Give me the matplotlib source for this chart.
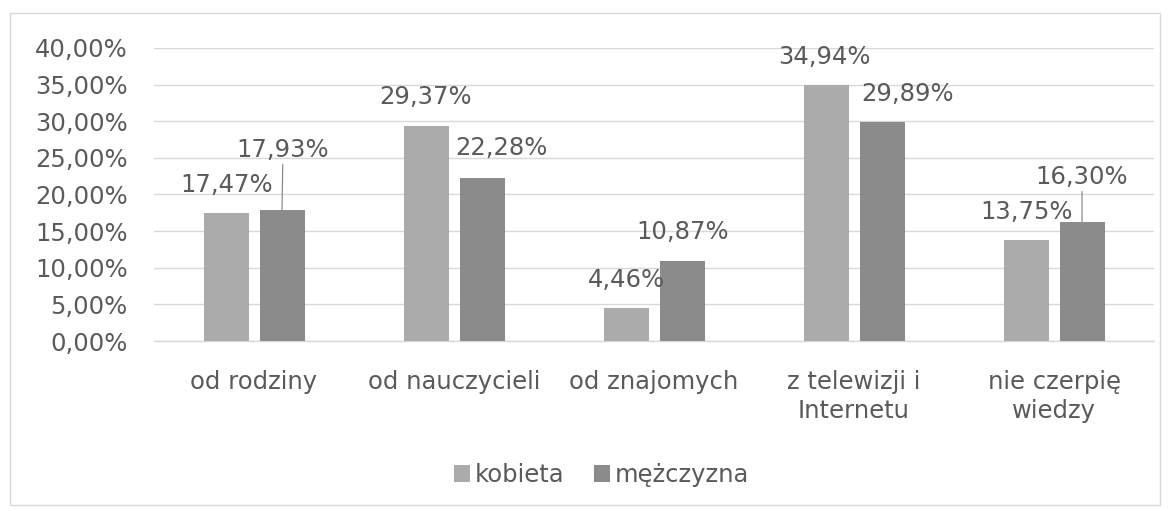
import matplotlib.pyplot as plt
import numpy as np
from matplotlib.patches import Rectangle
from matplotlib.ticker import FuncFormatter

# data
categories = ["od rodziny", "od nauczycieli", "od znajomych",
              "z telewizji i\nInternetu", "nie czerpię\nwiedzy"]
kobieta = [17.47, 29.37, 4.46, 34.94, 13.75]
mezczyzna = [17.93, 22.28, 10.87, 29.89, 16.30]
series_names = ["kobieta", "mężczyzna"]

# label placement in pixels relative to bar top (Excel moved some of them)
k_offsets = [(1, 28), (0, 29), (0, 28), (-2, 28), (1, 28)]
m_offsets = [(1, 60), (19, 30), (1, 29), (26, 28), (0, 45)]
m_leader = [True, False, False, False, True]

text_col = "#5a5a5a"
col_k = "#ababab"
col_m = "#8b8b8b"
fs = 17.5

plt.rcParams['font.family'] = ['DejaVu Sans']

fig = plt.figure(figsize=(11.68, 5.11), dpi=100)
ax = fig.add_axes([154 / 1168, 1 - 341 / 511, 1000 / 1168, 293 / 511])

x = np.arange(len(categories))
w = 0.225
off = 0.14
bars_k = ax.bar(x - off, kobieta, w, color=col_k, label=series_names[0], zorder=3)
bars_m = ax.bar(x + off, mezczyzna, w, color=col_m, label=series_names[1], zorder=3)

ax.set_xlim(-0.5, len(categories) - 0.5)
ax.set_ylim(0, 40)
ax.set_yticks(np.arange(0, 40.1, 5))
ax.yaxis.set_major_formatter(FuncFormatter(lambda v, p: f"{v:.2f}%".replace(".", ",")))
ax.set_xticks(x)
ax.set_xticklabels(categories, linespacing=1.25)
ax.tick_params(axis='both', length=0, labelsize=fs, labelcolor=text_col)
ax.tick_params(axis='y', pad=19)
ax.tick_params(axis='x', pad=21)
ax.grid(axis='y', color='#d9d9d9', lw=1, zorder=0)
ax.axhline(0, color='#d9d9d9', lw=1, zorder=2, clip_on=False)
for s in ax.spines.values():
    s.set_visible(False)


def fmt(v):
    return f"{v:.2f}%".replace(".", ",")


for b, v, (dx, dy) in zip(bars_k, kobieta, k_offsets):
    ax.annotate(fmt(v), (b.get_x() + b.get_width() / 2, v), xytext=(dx, dy),
                textcoords='offset pixels', ha='center', va='center',
                fontsize=fs, color=text_col, zorder=4)

for b, v, (dx, dy), lead in zip(bars_m, mezczyzna, m_offsets, m_leader):
    props = dict(arrowstyle='-', color='#7f7f7f', lw=0.8, shrinkA=0, shrinkB=0) if lead else None
    ax.annotate(fmt(v), (b.get_x() + b.get_width() / 2, v), xytext=(dx, dy),
                textcoords='offset pixels', ha='center', va='center',
                fontsize=fs, color=text_col, zorder=4, arrowprops=props)

fig.legend(loc='center', bbox_to_anchor=(0.515, 0.07), ncol=2, frameon=False,
           fontsize=fs, labelcolor=text_col, handlelength=0.67, handleheight=0.67,
           handletextpad=0.2, columnspacing=1.2)

fig.patches.append(Rectangle((10 / 1168, 6 / 511), 1150 / 1168, 492 / 511,
                             transform=fig.transFigure, fill=False,
                             ec='#d9d9d9', lw=1))

fig.savefig("out.png", dpi=100)
